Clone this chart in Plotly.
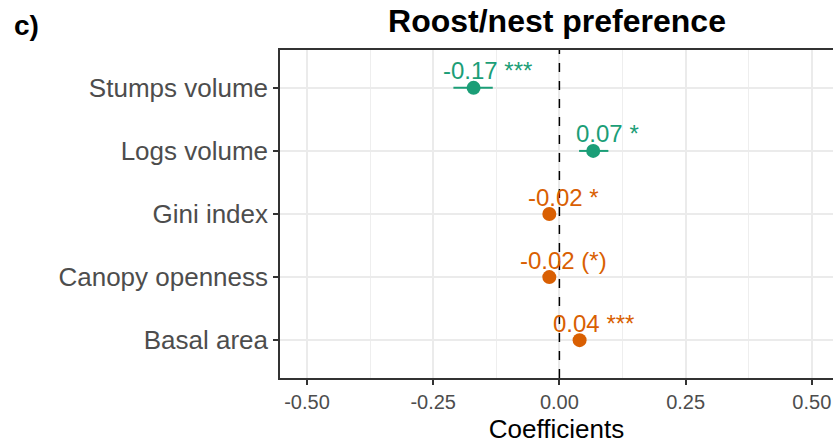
import plotly.graph_objects as go

# ---- data ----
predictors = ["Basal area", "Canopy openness", "Gini index", "Logs volume", "Stumps volume"]
estimates = [0.04, -0.02, -0.02, 0.067, -0.17]
ci_low = [0.032, -0.028, -0.028, 0.039, -0.21]
ci_high = [0.048, -0.012, -0.012, 0.097, -0.132]
labels = ["0.04 ***", "-0.02 (*)", "-0.02 *", "0.07 *", "-0.17 ***"]
groups = ["forest", "forest", "forest", "deadwood", "deadwood"]
group_colors = {"forest": "#D95F02", "deadwood": "#1B9E77"}
x_ticks = [-0.5, -0.25, 0.0, 0.25, 0.5]
x_tick_labels = ["-0.50", "-0.25", "0.00", "0.25", "0.50"]

FONT = "Liberation Sans, Arial, Helvetica, sans-serif"
W, H = 833, 446
L, R, T, B = 280, 0, 50, 68

fig = go.Figure()
for g, col in group_colors.items():
    idx = [i for i, gg in enumerate(groups) if gg == g]
    fig.add_trace(go.Scatter(
        x=[estimates[i] for i in idx],
        y=[predictors[i] for i in idx],
        mode="markers",
        marker=dict(color=col, size=14, line=dict(width=0)),
        error_x=dict(type="data", symmetric=False,
                     array=[ci_high[i] - estimates[i] for i in idx],
                     arrayminus=[estimates[i] - ci_low[i] for i in idx],
                     color=col, thickness=2, width=0),
        showlegend=False, hoverinfo="skip",
    ))

for i, lab in enumerate(labels):
    fig.add_annotation(x=estimates[i], y=predictors[i], text=lab, showarrow=False,
                       xanchor="center", yanchor="middle", xshift=14, yshift=17,
                       font=dict(family=FONT, size=24, color=group_colors[groups[i]]))

fig.add_vline(x=0, line=dict(color="black", width=1.5, dash="dash"))

fig.add_annotation(text="<b>c)</b>", xref="paper", yref="paper",
                   x=(12 - L) / (W - L - R), y=1 + (T - 26) / (H - T - B),
                   xanchor="left", yanchor="middle", showarrow=False,
                   font=dict(family=FONT, size=28, color="black"))

fig.update_layout(
    width=W, height=H,
    margin=dict(l=L, r=R, t=T, b=B),
    paper_bgcolor="white", plot_bgcolor="white",
    title=dict(text="<b>Roost/nest preference</b>", x=557 / W, xanchor="center",
               y=1 - 21 / H, yanchor="middle", yref="container",
               font=dict(family=FONT, size=32, color="black")),
    font=dict(family=FONT),
)
fig.update_xaxes(
    range=[-0.5535, 0.542], tickvals=x_ticks, ticktext=x_tick_labels,
    showgrid=True, gridcolor="#EBEBEB", gridwidth=1.5,
    minor=dict(dtick=0.125, tick0=0, showgrid=True, gridcolor="#EEEEEE", gridwidth=1, ticklen=0),
    zeroline=False, showline=True, linecolor="#333333", linewidth=1.5, mirror=True,
    ticks="outside", ticklen=5, tickcolor="#333333", tickwidth=1.5,
    tickfont=dict(family=FONT, size=20, color="#4D4D4D"),
    title=dict(text="Coefficients", font=dict(family=FONT, size=26, color="black"), standoff=8),
)
fig.update_yaxes(
    type="category", categoryorder="array", categoryarray=predictors,
    range=[-0.6, 4.6],
    showgrid=True, gridcolor="#EBEBEB", gridwidth=1.5,
    zeroline=False, showline=True, linecolor="#333333", linewidth=1.5, mirror=False,
    ticks="outside", ticklen=5, tickcolor="#333333", tickwidth=1.5,
    tickfont=dict(family=FONT, size=26, color="#4D4D4D"),
)

fig.write_html("out.html")
